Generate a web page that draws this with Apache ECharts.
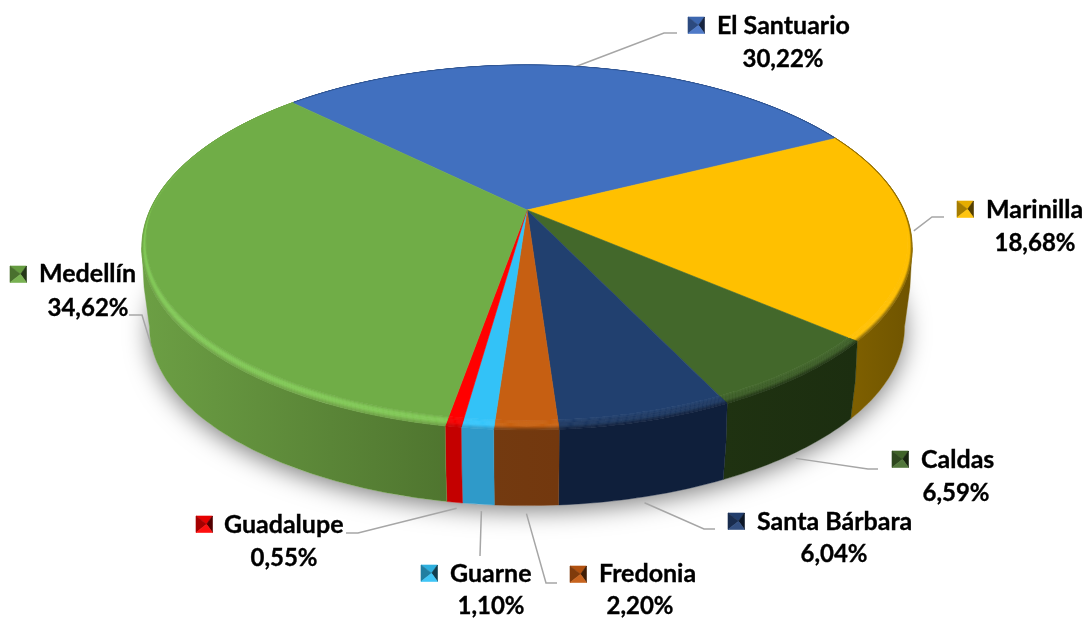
<!DOCTYPE html>
<html><head><meta charset="utf-8">
<style>html,body{margin:0;padding:0;background:#fff}#c{width:1087px;height:620px}</style>
<script src="https://cdn.jsdelivr.net/npm/echarts@6/dist/echarts.min.js"></script>
</head><body><div id="c"></div>
<script>
// ---- data ----
const categories = ['El Santuario','Marinilla','Caldas','Santa Bárbara','Fredonia','Guarne','Guadalupe','Medellín'];
const shares = [30.22,18.68,6.59,6.04,2.20,1.10,0.55,34.62];

// ---- styles ----
const faceColors = ['#4170BF','#FFC000','#43682B','#21406F','#C65F12','#33C2F7','#FF0000','#70AD47'];
const rimColors  = ['#4170BF','#FFC000','#3A5C25','#1D3862','#C86210','#36C6FC','#F50000','#80C755'];
const sideColors = [['#2B4C85','#2B4C85'],['#7F6000','#6F5400'],['#1F3211','#1C2E10'],['#0F1F3B','#0F1F3B'],
                    ['#733A10','#73380E'],['#2F9AC9','#2F9AC9'],['#C40000','#C40000'],['#6C9F44','#4F752F']];
const keyColor   = ['#4472C4','#FFC000','#476E2E','#264478','#C55A11','#33C2F7','#FF0000','#70AD47'];
const NAME_FONT = 'bold 25px Lato, "Liberation Sans", sans-serif';
const VALUE_FONT = 'bold 24px Lato, "Liberation Sans", sans-serif';
const LEADER = '#A6A6A6';

// ---- label layout: [key x, key y, name x, name y, value centre x, value y]
const labelBox = [
  [688,17,717,26,783,59],[957,201,986,210,1035,243],[892,451,921,460,956,493],[728,513,757,522,834,554],
  [570,566,599,574,640,606],[421,565,450,574,491,606],[196,516,224,525,284,558],[10,266,39,274,88,308]
];
// leader elbow points, and the ring + gap where a leader touches the pie
const leaderBends = [[[664,33],[677,33]],[[932,217],[944,217]],[[868,469],[878,469]],[[704,529],[715,529]],
  [[546,583],[557,583]],[[480,556]],[[358,533],[346,533]],[[142,315],[129,315]]];
const leaderRing = ['top','top','low','low','low','low','low','low'];
const leaderGap  = [[0,0],[3,-1],[0,6],[0,6],[0,8],[3,7],[2,6],[0,1]];

// ---- perspective model of the pie ----
const CX=527, CY=210, RX=377, SY=174.8, K=0.2055, START=-45.4;
const RINGS={top:[CY,1],mid:[250,0.994],low:[290,0.98]};
const FRONT_FROM=90+Math.asin(K)*180/Math.PI, FRONT_TO=270-Math.asin(K)*180/Math.PI;
function project(deg,r,ring){
  const a=deg*Math.PI/180, X=r*Math.sin(a), Y=r*Math.cos(a), d=1+K*Y;
  const dx=RX*X/d, dy=-SY*Y/d, g=RINGS[ring];
  return [CX+dx*g[1], g[0]+dy*g[1]];
}
function insetAt(deg){ return 1-0.005-0.03*Math.max(0,-Math.cos(deg*Math.PI/180)); }
function arc(from,to,fn){
  const n=Math.max(2,Math.ceil(Math.abs(to-from))), out=[];
  for(let i=0;i<=n;i++){ out.push(fn(from+(to-from)*i/n)); }
  return out;
}
function hex(c){ return [1,3,5].map(i=>parseInt(c.substr(i,2),16)); }
function mix(a,b,t){ const A=hex(a),B=hex(b); return 'rgb('+A.map((v,i)=>Math.round(v+(B[i]-v)*t)).join(',')+')'; }
function ringAt(deg,t){ const ins=insetAt(deg); return project(deg,ins+(1-ins)*t,'top'); }

const total = shares.reduce((a,b)=>a+b,0);
let cum = 0;
const spans = shares.map(v=>{ const s=START+cum/total*360; cum+=v; return [s,START+cum/total*360]; });

function poly(points,fill,z2){
  return {type:'polygon',z2,silent:true,shape:{points},style:{fill,stroke:fill,lineWidth:0.6}};
}
function renderSlice(params,api){
  const i=params.dataIndex, kids=[], [a,b]=spans[i], mid=(a+b)/2;
  const face=faceColors[i], rim=rimColors[i], side=sideColors[i];

  // side wall: only the part of the slice that faces the viewer
  const wa=Math.max(a,FRONT_FROM), wb=Math.min(b,FRONT_TO);
  if(wb>wa){
    const wall=arc(wa,wb,d=>project(d,1,'top')).concat([project(wb,1,'mid')],arc(wb,wa,d=>project(d,1,'low')),[project(wa,1,'mid')]);
    const grad={type:'linear',x:0,y:0,x2:1,y2:0,colorStops:[{offset:0,color:side[0]},{offset:1,color:side[1]}]};
    kids.push({type:'polygon',z2:2,silent:true,shape:{points:wall},style:{fill:grad,stroke:side[0],lineWidth:0.4}});
  }

  // bevel strips
  const N=10;
  for(let s=0;s<N;s++){
    const t0=s/N,t1=(s+1)/N,tm=(t0+t1)/2;
    let col;
    if(tm<0.35) col=mix(face,rim,tm/0.35);
    else if(tm<0.6) col=rim;
    else col=mix(rim,side[0],(tm-0.6)/0.4);
    const pts=arc(a,b,d=>ringAt(d,t1)).concat(arc(b,a,d=>ringAt(d,t0)));
    kids.push(poly(pts,col,3));
  }
  // top face
  const top=[[CX,CY]].concat(arc(a,b,d=>ringAt(d,0)));
  kids.push(poly(top,face,4));

  // leader line
  const tip=project(mid,1,leaderRing[i]);
  const start=[tip[0]+leaderGap[i][0],tip[1]+leaderGap[i][1]];
  kids.push({type:'polyline',z2:1,silent:true,shape:{points:[start].concat(leaderBends[i])},
    style:{stroke:LEADER,lineWidth:1.5,fill:null}});

  // key + text
  const L=labelBox[i], kw=16.5, kh=16.5, kx=L[0], ky=L[1], c=[kx+kw*0.64,ky+kh*0.5], base=keyColor[i];
  const tl=[kx,ky],tr=[kx+kw,ky],br=[kx+kw,ky+kh],bl=[kx,ky+kh];
  const black='#000000', white='#FFFFFF';
  kids.push(poly([tl,tr,c],mix(base,black,0.1),6));
  kids.push(poly([tl,bl,c],mix(base,black,0.35),6));
  kids.push(poly([tr,br,c],mix(base,black,0.68),6));
  kids.push(poly([bl,br,c],mix(base,white,0.06),6));
  const txt={fill:'#000',stroke:'#000',lineWidth:0.35,verticalAlign:'middle'};
  kids.push({type:'text',z2:7,silent:true,style:Object.assign({text:categories[i],x:L[2],y:L[3],font:NAME_FONT,align:'left'},txt)});
  kids.push({type:'text',z2:7,silent:true,style:Object.assign({text:api.value(1).toFixed(2).replace('.',',')+'%',x:L[4],y:L[5],font:VALUE_FONT,align:'center'},txt)});

  // soft shadow of the whole pie, emitted once
  if(i===0){
    const rimAll=arc(0,360,d=>project(d,1,'low'));
    kids.push({type:'polygon',z2:0,silent:true,shape:{points:rimAll},
      style:{fill:'#ffffff',shadowBlur:24,shadowColor:'rgba(0,0,0,0.5)',shadowOffsetX:0,shadowOffsetY:5}});
  }
  return {type:'group',children:kids};
}

const chart=echarts.init(document.getElementById('c'),null,{renderer:'canvas'});
chart.setOption({
  animation:false,
  backgroundColor:'#ffffff',
  series:[{
    type:'custom',
    coordinateSystem:'none',
    renderItem:renderSlice,
    data:categories.map((n,i)=>({name:n,value:[i,shares[i]]}))
  }]
});
</script></body></html>
